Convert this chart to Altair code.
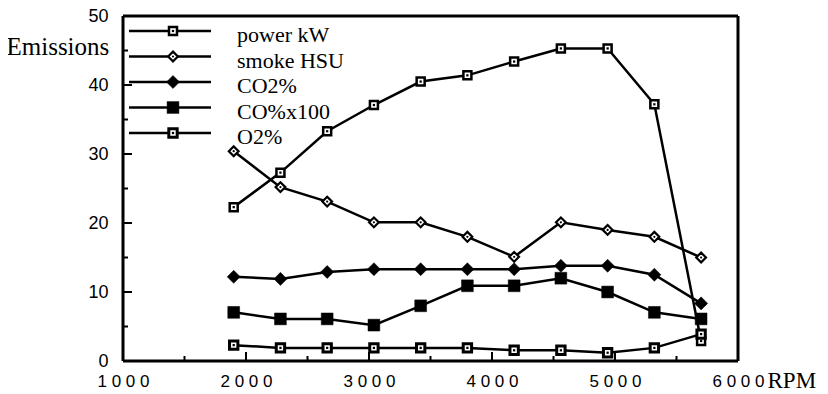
import altair as alt
import pandas as pd

rpm = [1900, 2280, 2660, 3040, 3420, 3800, 4180, 4560, 4940, 5320, 5700]
series_names = ["power kW", "smoke HSU", "CO2%", "CO%x100", "O2%"]
power = [22.3, 27.3, 33.3, 37.1, 40.5, 41.4, 43.4, 45.3, 45.3, 37.2, 2.9]
smoke = [30.4, 25.2, 23.1, 20.1, 20.1, 18.0, 15.1, 20.1, 19.0, 18.0, 15.0]
co2 = [12.2, 11.9, 12.9, 13.3, 13.3, 13.3, 13.3, 13.8, 13.8, 12.5, 8.35]
co = [7.05, 6.1, 6.1, 5.2, 8.0, 10.9, 10.9, 12.0, 10.0, 7.05, 6.1]
o2 = [2.3, 1.9, 1.9, 1.9, 1.9, 1.9, 1.55, 1.55, 1.2, 1.9, 3.9]

x_major = [1000, 2000, 3000, 4000, 5000, 6000]
x_minor = [1500, 2500, 3500, 4500, 5500]
y_major = [0, 10, 20, 30, 40, 50]
y_minor = [5, 15, 25, 35, 45]
x_domain = [1000, 6000]
y_domain = [0, 50]

rows = []
for name, vals in zip(series_names, [power, smoke, co2, co, o2]):
    for r, v in zip(rpm, vals):
        rows.append({"series": name, "rpm": r, "value": v})
df = pd.DataFrame(rows)

W, H = 615, 345
xs = alt.Scale(domain=x_domain, nice=False, zero=False)
ys = alt.Scale(domain=y_domain, nice=False)

xaxis = alt.Axis(values=x_major, format="d",
                 labelExpr="join(split(datum.label, ''), ' ')",
                 labelFont="Liberation Sans", labelFontSize=17, labelColor="black",
                 labelPadding=12, ticks=False, domain=False, grid=False,
                 labelFlush=False, labelOverlap=False,
                 title="RPM", titleFont="Liberation Serif", titleFontSize=23,
                 titleFontWeight="normal", titleColor="black",
                 titleX=644, titleY=26, titleAlign="left", titleBaseline="alphabetic")
yaxis = alt.Axis(values=y_major, format="d",
                 labelFont="Liberation Sans", labelFontSize=18, labelColor="black",
                 labelPadding=15, ticks=False, domain=False, grid=False,
                 labelFlush=False, labelOverlap=False,
                 title="Emissions", titleFont="Liberation Serif", titleFontSize=25,
                 titleFontWeight="normal", titleColor="black", titleAngle=0,
                 titleX=-117, titleY=38, titleAlign="left", titleBaseline="alphabetic")


def X(f):
    return alt.X(f, scale=xs, axis=xaxis)


def Y(f):
    return alt.Y(f, scale=ys, axis=yaxis)


base = alt.Chart(df)
lines = base.mark_line(color="black", strokeWidth=2.5).encode(
    x=X("rpm:Q"), y=Y("value:Q"), detail="series:N")

styles = {
    "power kW": [dict(shape="square", size=64, fill="white", stroke="black", strokeWidth=2.5),
                 dict(shape="square", size=5, fill="black", strokeWidth=0)],
    "smoke HSU": [dict(shape="diamond", size=95, fill="white", stroke="black", strokeWidth=2.2),
                  dict(shape="circle", size=5, fill="black", strokeWidth=0)],
    "CO2%": [dict(shape="diamond", size=170, fill="black", stroke="black", strokeWidth=0.5)],
    "CO%x100": [dict(shape="square", size=140, fill="black", stroke="black", strokeWidth=0.5)],
    "O2%": [dict(shape="square", size=70, fill="white", stroke="black", strokeWidth=3),
            dict(shape="square", size=5, fill="black", strokeWidth=0)],
}

point_layers = []
for name in series_names:
    for st in styles[name]:
        point_layers.append(
            base.mark_point(filled=True, opacity=1, **st)
            .encode(x=X("rpm:Q"), y=Y("value:Q"))
            .transform_filter(alt.datum.series == name)
        )

tick_layers = [
    alt.Chart(pd.DataFrame({"t": x_major})).mark_rule(color="black", strokeWidth=2).encode(
        x=X("t:Q"), y=alt.value(H), y2=alt.value(H - 9)),
    alt.Chart(pd.DataFrame({"t": x_minor})).mark_rule(color="black", strokeWidth=2).encode(
        x=X("t:Q"), y=alt.value(H), y2=alt.value(H - 5)),
    alt.Chart(pd.DataFrame({"t": y_major})).mark_rule(color="black", strokeWidth=2).encode(
        y=Y("t:Q"), x=alt.value(0), x2=alt.value(9)),
    alt.Chart(pd.DataFrame({"t": y_minor})).mark_rule(color="black", strokeWidth=2).encode(
        y=Y("t:Q"), x=alt.value(0), x2=alt.value(5)),
]

# plot frame, drawn from the axis domains
hdf = pd.DataFrame({"x0": [x_domain[0]] * 2, "x1": [x_domain[1]] * 2, "y": y_domain})
vdf = pd.DataFrame({"x": x_domain, "y0": [y_domain[0]] * 2, "y1": [y_domain[1]] * 2})
frame = [
    alt.Chart(hdf).mark_rule(color="black", strokeWidth=3).encode(
        x=X("x0:Q"), x2="x1:Q", y=Y("y:Q")),
    alt.Chart(vdf).mark_rule(color="black", strokeWidth=3).encode(
        x=X("x:Q"), y=Y("y0:Q"), y2="y1:Q"),
]

# legend
leg_df = pd.DataFrame({"label": series_names})
LY = alt.Y("label:N", sort=series_names,
           scale=alt.Scale(type="point", range=[15, 117], padding=0), axis=None)
leg_base = alt.Chart(leg_df)
leg_rule = leg_base.mark_rule(color="black", strokeWidth=2.5).encode(
    y=LY, x=alt.value(6), x2=alt.value(88))
leg_points = []
for name in series_names:
    for st in styles[name]:
        leg_points.append(
            leg_base.mark_point(filled=True, opacity=1, **st)
            .encode(y=LY, x=alt.value(50))
            .transform_filter(alt.datum.label == name)
        )
leg_text = leg_base.mark_text(align="left", baseline="alphabetic", dy=11,
                              font="Liberation Serif", fontSize=22, color="black").encode(
    y=LY, x=alt.value(114), text="label:N")
legend = alt.layer(leg_rule, *leg_points, leg_text)

main = alt.layer(lines, *point_layers, *tick_layers, *frame)

chart = alt.layer(main, legend).resolve_scale(y="independent").properties(
    width=W, height=H,
    background="white",
    autosize=alt.AutoSizeParams(type="none"),
    padding={"left": 115, "top": 8, "right": 82, "bottom": 33},
).configure_view(stroke=None)

chart.save("out.html", embed_options={"renderer": "svg", "actions": False})
